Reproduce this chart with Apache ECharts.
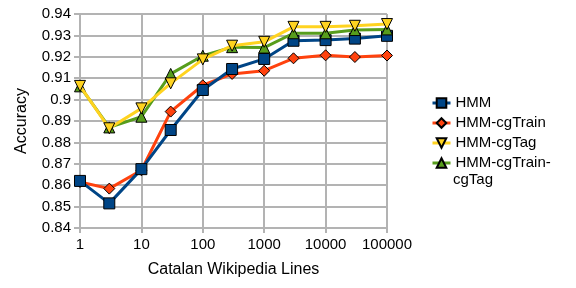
<!DOCTYPE html>
<html>
<head>
<meta charset="utf-8">
<script src="https://cdn.jsdelivr.net/npm/echarts@6/dist/echarts.min.js"></script>
<style>html,body{margin:0;padding:0;background:#fff}#c{width:576px;height:288px}</style>
</head>
<body>
<div id="c"></div>
<script>
const lines = [1, 3, 10, 30, 100, 300, 1000, 3000, 10000, 30000, 100000];
const hmm = [0.862, 0.8515, 0.8675, 0.8858, 0.9045, 0.9143, 0.919, 0.9275, 0.9278, 0.9285, 0.9298];
const hmmCgTrain = [0.8615, 0.8584, 0.867, 0.8944, 0.9067, 0.912, 0.9135, 0.9193, 0.9207, 0.9199, 0.9206];
const hmmCgTag = [0.9064, 0.8866, 0.8959, 0.9076, 0.9188, 0.9252, 0.927, 0.934, 0.934, 0.9345, 0.9353];
const hmmCgTrainCgTag = [0.9062, 0.887, 0.892, 0.912, 0.9205, 0.9245, 0.9243, 0.931, 0.931, 0.9325, 0.9328];
const seriesNames = ['HMM', 'HMM-cgTrain', 'HMM-cgTag', 'HMM-cgTrain-cgTag'];
const yTicks = ['0.84','0.85','0.86','0.87','0.88','0.89','0.9','0.91','0.92','0.93','0.94'];
const xTicks = ['1','10','100','1000','10000','100000'];

const font = "'Liberation Sans', Arial, sans-serif";
const grey = '#b3b3b3';
function pairs(vals){ return lines.map((x,i)=>[x, vals[i]]); }
function mk(name, vals, color, symbol, size, rot, z){
  return {
    name, type:'line', data:pairs(vals), z,
    lineStyle:{color, width:3},
    itemStyle:{color, borderColor:'#000', borderWidth:1},
    symbol, symbolSize:size, symbolRotate:rot, showSymbol:true,
    emphasis:{disabled:true}, animation:false
  };
}
const chart = echarts.init(document.getElementById('c'));
chart.setOption({
  animation:false,
  textStyle:{fontFamily:font},
  grid:{left:80, right:189, top:14, bottom:60, containLabel:false},
  legend:{
    orient:'vertical', left:426, top:88, itemWidth:18, itemHeight:12, itemGap:0,
    lineStyle:{width:3},
    textStyle:{fontSize:15, color:'#000', fontFamily:font, lineHeight:20},
    formatter: n => n === 'HMM-cgTrain-cgTag' ? 'HMM-cgTrain-' : n,
    data: seriesNames
  },
  graphic:[{type:'text', left:453, top:172, style:{text:'cgTag', fontSize:15, fill:'#000', fontFamily:font}}],
  xAxis:{
    type:'log', logBase:10, min:1, max:100000,
    name:'Catalan Wikipedia Lines', nameLocation:'middle', nameGap:34,
    nameTextStyle:{fontSize:16, color:'#000', fontFamily:font},
    axisLine:{show:true, lineStyle:{color:grey, width:2}},
    axisTick:{show:true, length:5, lineStyle:{color:grey, width:2}},
    axisLabel:{fontSize:15, color:'#000', margin:9, fontFamily:font,
      formatter: v => { const i = Math.round(Math.log10(v)); return xTicks[i] !== undefined ? xTicks[i] : String(v); }},
    splitLine:{show:true, lineStyle:{color:grey, width:2}},
    minorTick:{show:false}
  },
  yAxis:{
    type:'value', min:0.84, max:0.94, interval:0.01,
    name:'Accuracy', nameLocation:'middle', nameGap:50,
    nameTextStyle:{fontSize:16, color:'#000', fontFamily:font},
    axisLine:{show:true, lineStyle:{color:grey, width:2}},
    axisTick:{show:true, length:6, lineStyle:{color:grey, width:2}},
    axisLabel:{fontSize:15, color:'#000', margin:9, fontFamily:font,
      formatter: v => { const i = Math.round((v-0.84)/0.01); return yTicks[i] !== undefined ? yTicks[i] : String(v); }},
    splitLine:{show:true, lineStyle:{color:grey, width:2}}
  },
  series:[
    mk(seriesNames[1], hmmCgTrain, '#ff420e', 'diamond', 11, 0, 2),
    mk(seriesNames[0], hmm, '#004586', 'rect', 11, 0, 3),
    mk(seriesNames[3], hmmCgTrainCgTag, '#579d1c', 'triangle', 11, 0, 4),
    mk(seriesNames[2], hmmCgTag, '#ffd320', 'triangle', 11, 180, 5)
  ]
});
</script>
</body>
</html>
